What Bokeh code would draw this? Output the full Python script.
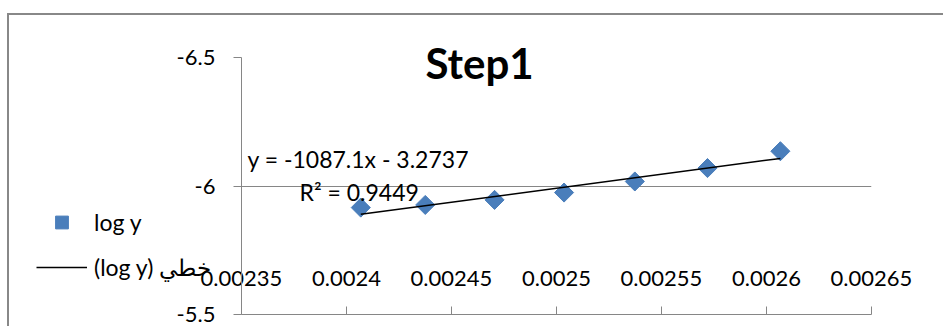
from bokeh.plotting import figure
from bokeh.models import (Range1d, FixedTicker, Legend, LegendItem, Label, ColumnDataSource)
from bokeh.embed import file_html
from bokeh.resources import INLINE
import numpy as np

# ---- data ----
x_vals = [0.0024068, 0.0024375, 0.0024705, 0.0025036, 0.0025373, 0.0025719, 0.0026066]
y_vals = [-5.916, -5.9263, -5.9459, -5.9745, -6.0176, -6.0698, -6.1353]

trend_slope = -1087.1
trend_intercept = -3.2737

x_ticks = [0.00235, 0.0024, 0.00245, 0.0025, 0.00255, 0.0026, 0.00265]
x_tick_labels = ["0.00235", "0.0024", "0.00245", "0.0025", "0.00255", "0.0026", "0.00265"]
y_ticks = [-6.5, -6.0, -5.5]
y_tick_labels = ["-6.5", "-6", "-5.5"]

title_text = "Step1"
eq_text = "y = -1087.1x - 3.2737"
r2_text = "R² = 0.9449"
series_name = "log y"
trend_name = "(log y) خطي"

FONT = "Lato"
GRAY = "#868686"
BLUE = "#4A7EBB"

src = ColumnDataSource(dict(x=x_vals, y=y_vals))
tx = [min(x_vals), max(x_vals)]
ty = [trend_slope * v + trend_intercept for v in tx]

# ---------------- main chart ----------------
p = figure(width=934, height=311, output_backend="svg", toolbar_location=None,
           x_range=Range1d(x_ticks[0], x_ticks[-1]),
           y_range=Range1d(y_ticks[-1], y_ticks[0]),
           min_border_left=232, min_border_right=74, min_border_top=42, min_border_bottom=14)
p.styles = {"box-sizing": "content-box",
            "border-left": "2px solid #888888", "border-top": "2px solid #888888",
            "margin-left": "7px", "margin-top": "13px"}
p.outline_line_color = None
p.background_fill_color = "white"
p.border_fill_color = "white"

p.xaxis.ticker = FixedTicker(ticks=x_ticks)
p.xaxis.major_label_overrides = {t: l for t, l in zip(x_ticks, x_tick_labels)}
p.xaxis.axis_line_color = GRAY
p.xaxis.major_tick_line_color = GRAY
p.xaxis.major_tick_in = 8
p.xaxis.major_tick_out = 0
p.xaxis.minor_tick_line_color = None
p.xaxis.major_label_standoff = -44
p.xaxis.major_label_text_font = FONT
p.xaxis.major_label_text_font_size = "22px"
p.xaxis.major_label_text_color = "black"

p.yaxis.ticker = FixedTicker(ticks=y_ticks)
p.yaxis.major_label_overrides = {t: l for t, l in zip(y_ticks, y_tick_labels)}
p.yaxis.axis_line_color = GRAY
p.yaxis.major_tick_line_color = GRAY
p.yaxis.major_tick_in = 0
p.yaxis.major_tick_out = 8
p.yaxis.minor_tick_line_color = None
p.yaxis.major_label_standoff = 18
p.yaxis.major_label_text_font = FONT
p.yaxis.major_label_text_font_size = "22px"
p.yaxis.major_label_text_color = "black"

p.xgrid.grid_line_color = None
p.ygrid.grid_line_color = GRAY
p.ygrid.grid_line_width = 1

pts_style = dict(marker="square", angle=np.pi / 4, size=13.5, fill_color=BLUE, line_color=BLUE)
line_style = dict(line_color="black", line_width=1.5)

p.scatter("x", "y", source=src, **pts_style)
p.line(tx, ty, **line_style)

p.add_layout(Label(x=6, y=156, x_units="screen", y_units="screen", text=eq_text,
                   text_font=FONT, text_font_size="23px", text_color="black",
                   text_baseline="alphabetic"))
p.add_layout(Label(x=58, y=123, x_units="screen", y_units="screen", text=r2_text,
                   text_font=FONT, text_font_size="23px", text_color="black",
                   text_baseline="alphabetic"))

# ---------------- overlay: title and legend (transparent, on top of the chart) ----------------
lg = figure(width=551, height=285, output_backend="svg", toolbar_location=None,
            x_range=Range1d(0, 1), y_range=Range1d(0, 1),
            x_axis_type=None, y_axis_type=None,
            min_border_left=0, min_border_right=0, min_border_top=0, min_border_bottom=0)
lg.styles = {"position": "absolute", "left": "9px", "top": "15px", "pointer-events": "none"}
lg.outline_line_color = None
lg.background_fill_alpha = 0
lg.border_fill_alpha = 0
lg.xgrid.visible = False
lg.ygrid.visible = False
lpts = lg.scatter("x", "y", source=src, **pts_style)   # same series, outside this view
lline = lg.line(tx, ty, **line_style)

lg.add_layout(Label(x=416, y=238, x_units="screen", y_units="screen", text=title_text,
                    text_font=FONT, text_font_size="42px", text_font_style="bold",
                    text_color="black", text_baseline="alphabetic"))

legend = Legend(items=[LegendItem(label=series_name, renderers=[lpts]),
                       LegendItem(label=trend_name, renderers=[lline])],
                location=(27, 17), orientation="vertical",
                glyph_width=51, glyph_height=32, label_height=24,
                label_standoff=7, spacing=13, padding=0, margin=0,
                border_line_color=None, background_fill_alpha=0,
                label_text_font=FONT, label_text_font_size="23px", label_text_color="black")
lg.add_layout(legend, "center")

open("out.html", "w").write(file_html([p, lg], INLINE))
